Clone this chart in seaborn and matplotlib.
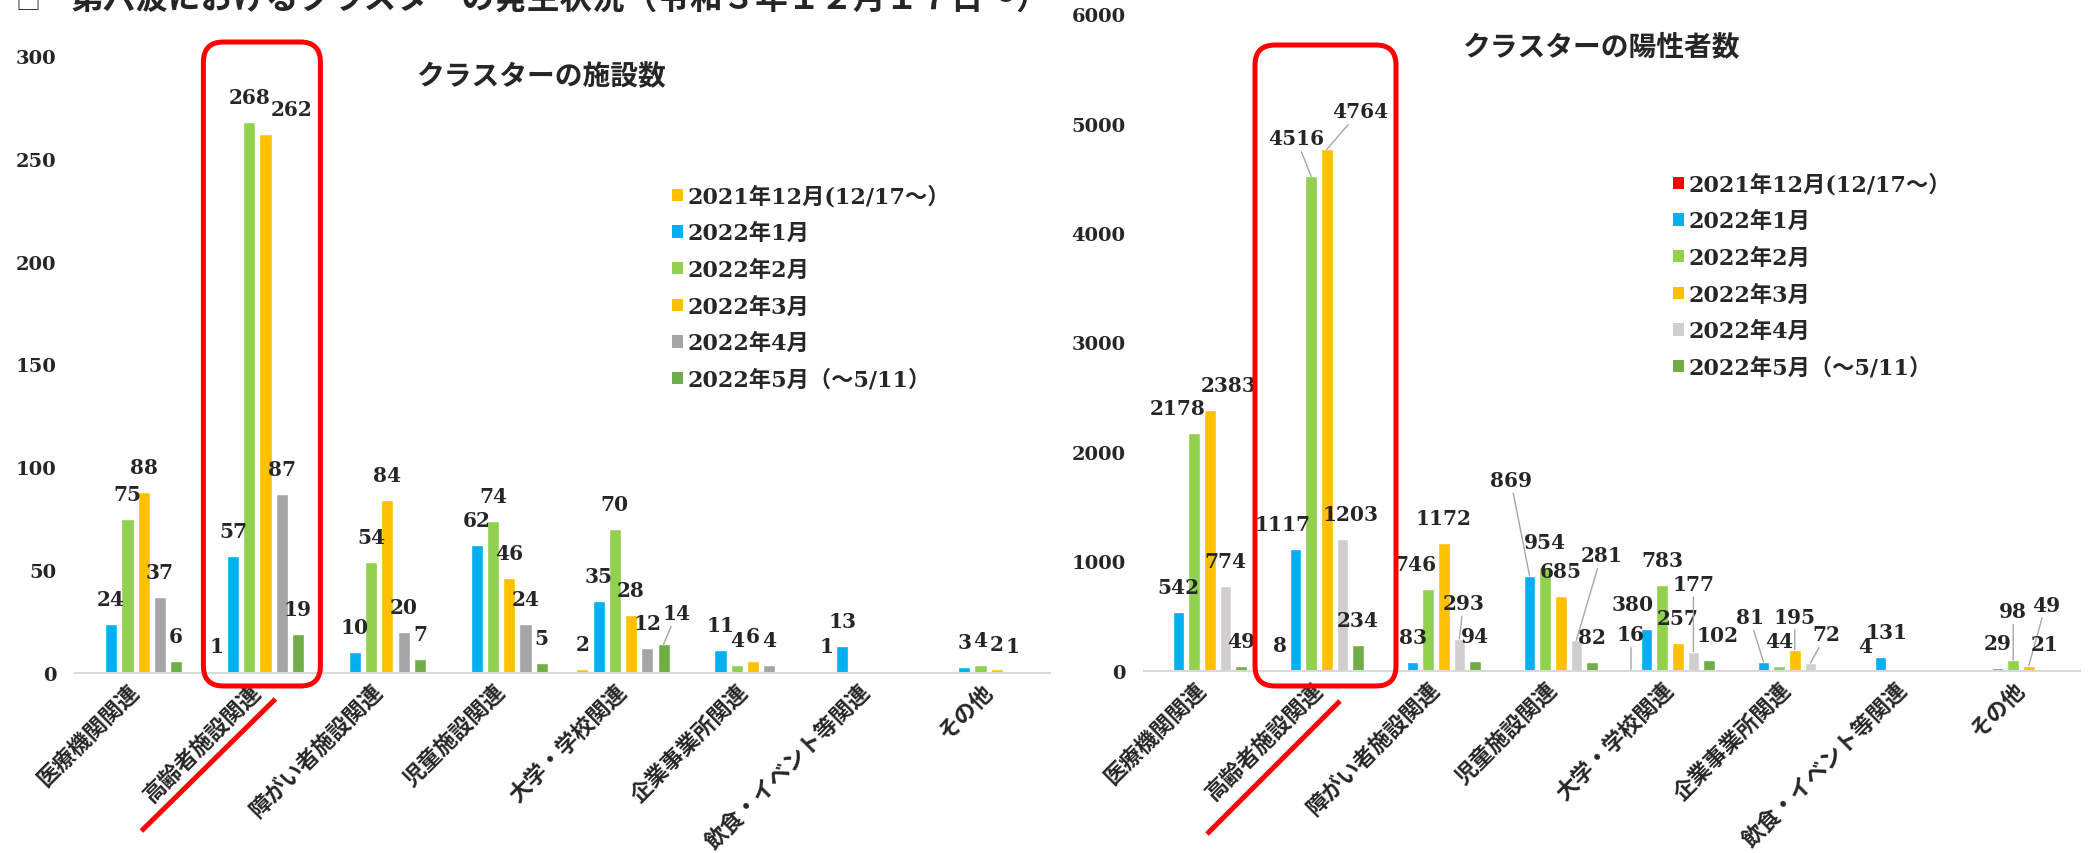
import numpy as np
import pandas as pd
import matplotlib
matplotlib.use("Agg")
import matplotlib.pyplot as plt
import seaborn as sns
from matplotlib.patches import FancyBboxPatch, Rectangle
from matplotlib.lines import Line2D
from matplotlib.transforms import IdentityTransform, ScaledTranslation

# --- data (None = no bar) ---
categories = ["医療機関関連", "高齢者施設関連", "障がい者施設関連", "児童施設関連",
              "大学・学校関連", "企業事業所関連", "飲食・イベント等関連", "その他"]
months = ["2021年12月(12/17～）", "2022年1月", "2022年2月", "2022年3月",
          "2022年4月", "2022年5月（～5/11）"]

N = None
# cluster facilities
fac_dec = [N, 1, N, N, 2, N, 1, N]
fac_jan = [24, 57, 10, 62, 35, 11, 13, 3]
fac_feb = [75, 268, 54, 74, 70, 4, N, 4]
fac_mar = [88, 262, 84, 46, 28, 6, N, 2]
fac_apr = [37, 87, 20, 24, 12, 4, N, 1]
fac_may = [6, 19, 7, 5, 14, N, N, N]

# cluster positives
pos_dec = [N, 8, N, N, 16, N, 4, N]
pos_jan = [542, 1117, 83, 869, 380, 81, 131, 29]
pos_feb = [2178, 4516, 746, 954, 783, 44, N, 98]
pos_mar = [2383, 4764, 1172, 685, 257, 195, N, 49]
pos_apr = [774, 1203, 293, 281, 177, 72, N, 21]
pos_may = [49, 234, 94, 82, 102, N, N, N]

colors_left = ["#FFC000", "#00B0F0", "#92D050", "#FFC000", "#A5A5A5", "#70AD47"]
colors_right = ["#FF0000", "#00B0F0", "#92D050", "#FFC000", "#D0CECE", "#70AD47"]

# label nudges in pixels: (category, month) -> (dx, dy, leader line)
nudge_left = {(1, 3): (26, 0, False), (4, 5): (13, 6, True)}
nudge_right = {(0, 2): (-17, 0, False), (0, 3): (19, 0, False),
               (1, 1): (-13, 0, False), (1, 2): (-15, 13, True), (1, 3): (33, 13, True),
               (1, 4): (8, 0, False), (2, 2): (-13, 0, False), (2, 4): (4, 11, True),
               (3, 1): (-19, 71, True), (3, 4): (25, 60, True), (4, 0): (0, 10, True),
               (4, 1): (-14, 0, False), (4, 4): (0, 43, True), (4, 5): (9, 0, False),
               (5, 1): (-14, 20, True), (5, 3): (0, 8, True), (5, 4): (16, 4, True),
               (6, 1): (6, 0, False), (7, 2): (0, 24, True), (7, 3): (17, 36, True)}

W, H, DPI = 2091, 854, 100
NUM_FONT = "DejaVu Serif"
JP_FONT = "Noto Sans CJK JP"


def long_table(series):
    rows = []
    for month, vals in zip(months, series):
        for cat, v in zip(categories, vals):
            if v is not None:
                rows.append({"category": cat, "month": month, "value": v})
    return pd.DataFrame(rows)


def px_rect(x0, x1, y_top, y_bottom):
    return [x0 / W, 1 - y_bottom / H, (x1 - x0) / W, (y_bottom - y_top) / H]


def draw_panel(ax, df, colors, ymax, ystep, ypad, nudges, legend_xy, box, line):
    sns.barplot(data=df, x="category", y="value", hue="month", order=categories,
                hue_order=months, palette=dict(zip(months, colors)), width=0.8, gap=0.25,
                errorbar=None, saturation=1, legend=False, ax=ax)
    ax.set_xlim(-0.5, len(categories) - 0.5)
    ax.set_ylim(0, ymax)
    ticks = np.arange(0, ymax + 1, ystep)
    ax.set_yticks(ticks, labels=[str(t) for t in ticks], fontsize=14,
                  fontweight="bold", family=NUM_FONT)
    ax.set_xticks(range(len(categories)), labels=categories, rotation=45, ha="right",
                  va="top", rotation_mode="anchor", fontsize=16, fontweight="bold",
                  family=JP_FONT)
    ax.set_xlabel("")
    ax.set_ylabel("")
    for s in ["left", "right", "top"]:
        ax.spines[s].set_visible(False)
    ax.spines["bottom"].set_color("#D9D9D9")
    ax.spines["bottom"].set_linewidth(1.5)
    ax.tick_params(axis="both", length=0)
    ax.tick_params(axis="y", pad=ypad)
    ax.tick_params(axis="x", pad=11)
    shift = ScaledTranslation(-8 / DPI, 9 / DPI, fig.dpi_scale_trans)
    for lbl in ax.get_xticklabels():
        lbl.set_transform(lbl.get_transform() + shift)

    # value labels
    slot = 0.8 / len(months)
    for cont in ax.containers:
        for p in cont:
            h = p.get_height()
            if np.isnan(h):
                continue
            xc = p.get_x() + p.get_width() / 2
            ci = int(round(xc))
            j = int(round((xc - ci + 0.4) / slot - 0.5))
            dx, dy, lead = nudges.get((ci, j), (0, 0, False))
            kw = dict(xy=(xc, h), xytext=(dx, 19 + dy), textcoords="offset pixels",
                      ha="center", va="baseline", fontsize=14.5, fontweight="bold",
                      family=NUM_FONT)
            if lead:
                kw["arrowprops"] = dict(arrowstyle="-", color="#A6A6A6", lw=1,
                                        shrinkA=0, shrinkB=0)
            ax.annotate(f"{h:.0f}", **kw)

    # legend
    handles = [Rectangle((0, 0), 1, 1, facecolor=c, edgecolor="none") for c in colors]
    ax.legend(handles, months, loc="upper left",
              bbox_to_anchor=(legend_xy[0] / W, 1 - legend_xy[1] / H),
              bbox_transform=fig.transFigure, frameon=False,
              prop=dict(family=[NUM_FONT, JP_FONT], weight="bold", size=16),
              handlelength=0.48, handleheight=0.48, handletextpad=0.2,
              labelspacing=0.66, borderpad=0, borderaxespad=0)

    # red highlight box and underline around 高齢者施設関連
    cx, y0 = ax.transData.transform((1, 0))
    bl, br, bb, btop = box
    top = H - btop
    fig.add_artist(FancyBboxPatch((cx + bl, y0 - bb), br - bl, top - (y0 - bb),
                                  boxstyle="round,pad=0,rounding_size=20",
                                  transform=IdentityTransform(), fill=False,
                                  ec="#FF0000", lw=3.6))
    (lx0, ly0), (lx1, ly1) = line
    fig.add_artist(Line2D([cx + lx0, cx + lx1], [y0 + ly0, y0 + ly1],
                          transform=IdentityTransform(), color="#FF0000", lw=3.6,
                          solid_capstyle="butt"))


sns.set_theme(style="white")
plt.rcParams["font.family"] = [NUM_FONT, JP_FONT]

fig = plt.figure(figsize=(W / DPI, H / DPI), dpi=DPI)
ax_l = fig.add_axes(px_rect(74.6, 1049.5, 57, 674))
ax_r = fig.add_axes(px_rect(1143.5, 2079.5, 15, 672))

df_fac = long_table([fac_dec, fac_jan, fac_feb, fac_mar, fac_apr, fac_may])
df_pos = long_table([pos_dec, pos_jan, pos_feb, pos_mar, pos_apr, pos_may])

draw_panel(ax_l, df_fac, colors_left, 300, 50, 13, nudge_left, (672, 186),
           (-54, 63, 13, 43), ((-116, -158), (18, -26)))
draw_panel(ax_r, df_pos, colors_right, 6000, 1000, 13, nudge_right, (1673, 174),
           (-64, 77, 15, 46), ((-112, -163), (21, -30)))

# panel titles
fig.text(541 / W, 1 - 77 / H, "クラスターの施設数", ha="center", va="center",
         fontsize=20, fontweight="bold", family=JP_FONT)
fig.text(1601 / W, 1 - 47 / H, "クラスターの陽性者数", ha="center", va="center",
         fontsize=20, fontweight="bold", family=JP_FONT)

# slide heading, cut off at the top edge
fig.text(15 / W, 1 - 9 / H, "□", ha="left", va="baseline", fontsize=18,
         family=JP_FONT)
fig.text(70 / W, 1 - 9 / H, "第六波におけるクラスターの発生状況（令和３年１２月１７日～）",
         ha="left", va="baseline", fontsize=23.5, fontweight="bold", family=JP_FONT)

fig.savefig("out.png", dpi=DPI)
